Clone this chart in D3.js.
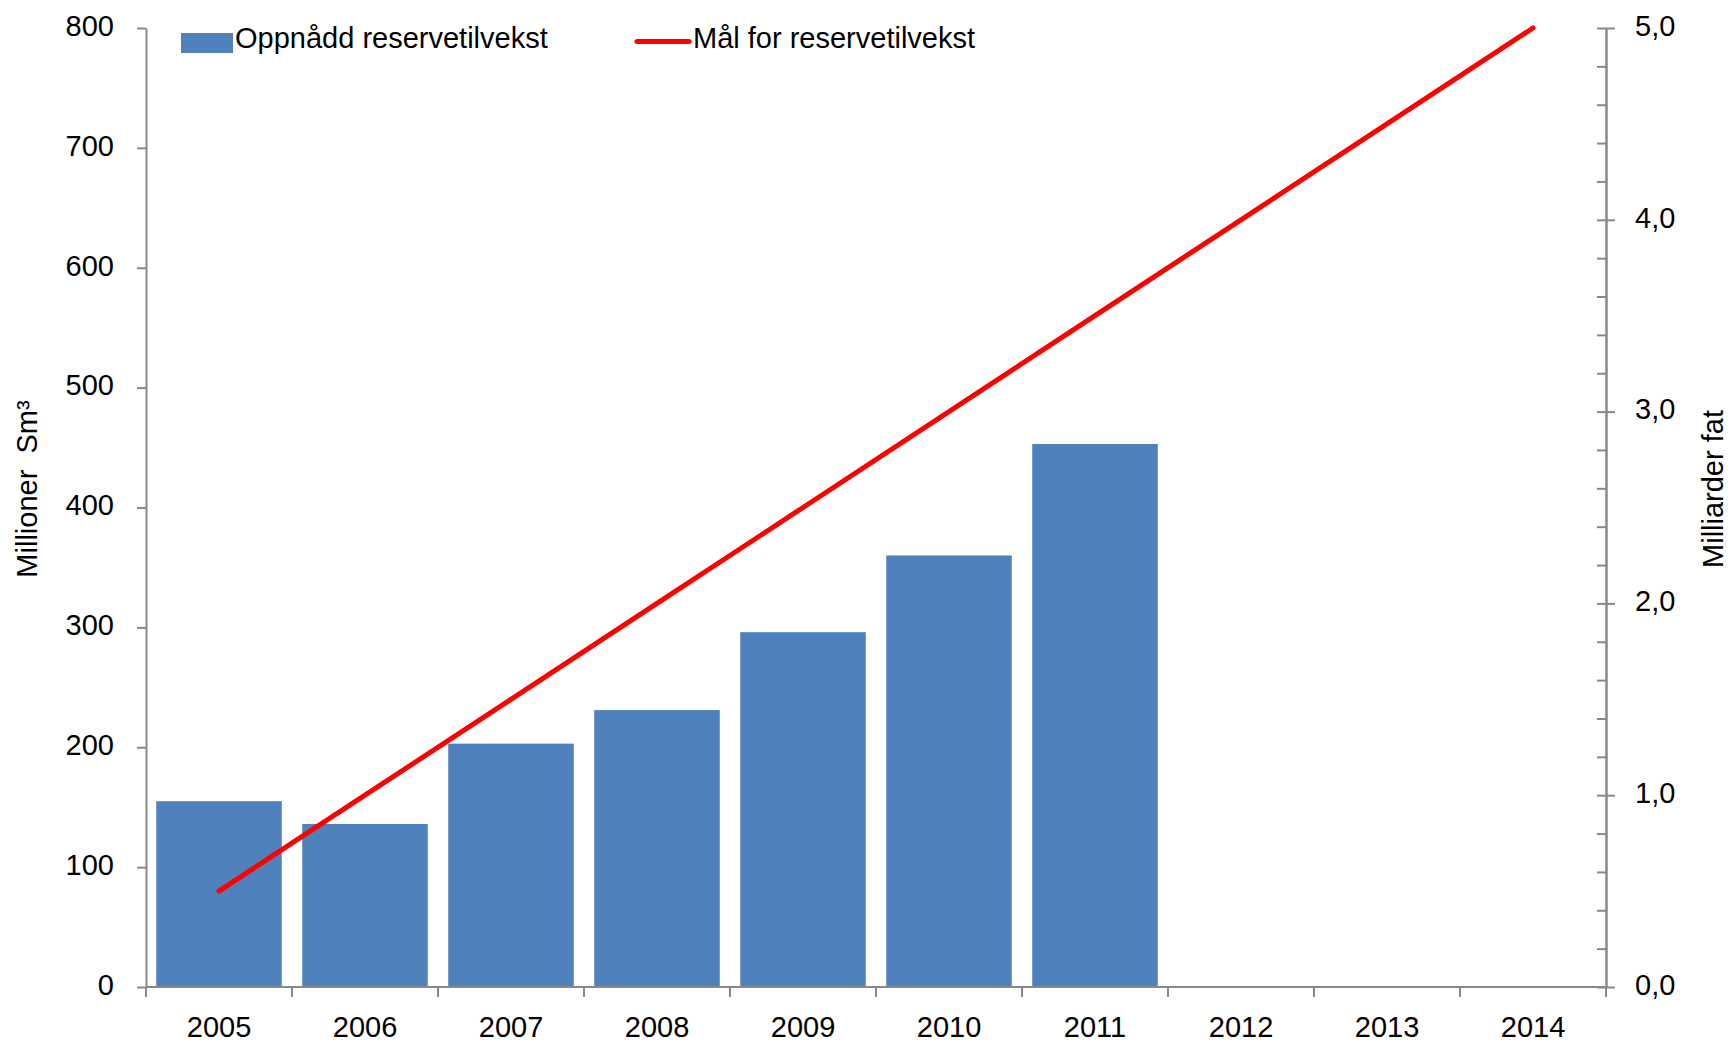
<!DOCTYPE html>
<html>
<head>
<meta charset="utf-8">
<script src="https://cdn.jsdelivr.net/npm/d3@7"></script>
<style>
  html, body { margin: 0; padding: 0; background: #fff; }
  svg { display: block; }
  text { font-family: 'Liberation Sans', Arial, sans-serif; fill: #000; white-space: pre; }
</style>
</head>
<body>
<script>
const years = ["2005","2006","2007","2008","2009","2010","2011","2012","2013","2014"];
const achieved = [155, 136, 203, 231, 296, 360, 453, null, null, null];
const target = [0.5, 1.0, 1.5, 2.0, 2.5, 3.0, 3.5, 4.0, 4.5, 5.0];
const leftTicks = [0, 100, 200, 300, 400, 500, 600, 700, 800];
const rightTicks = [0, 1, 2, 3, 4, 5];
const rightMinor = d3.range(0, 5.0001, 0.2);
const seriesNames = ["Oppnådd reservetilvekst", "Mål for reservetilvekst"];
const leftTitle = "Millioner  Sm³";
const rightTitle = "Milliarder fat";

const W = 1731, H = 1043;
const m = { left: 146, right: 1606, top: 28, bottom: 987 };
const axisColor = "#898989";
const fontSize = 29;

const svg = d3.select("body").append("svg").attr("width", W).attr("height", H);

const x = d3.scaleBand().domain(years).range([m.left, m.right]).paddingInner(0.14).paddingOuter(0.07);
const y = d3.scaleLinear().domain([0, 800]).range([m.bottom, m.top]);
const y2 = d3.scaleLinear().domain([0, 5]).range([m.bottom, m.top]);

// bars
svg.append("g").selectAll("rect")
  .data(years.map((yr, i) => ({ yr, v: achieved[i] })).filter(d => d.v != null))
  .join("rect")
  .attr("x", d => x(d.yr))
  .attr("width", x.bandwidth())
  .attr("y", d => y(d.v))
  .attr("height", d => y(0) - y(d.v))
  .attr("fill", "#4F81BD");

// line
const line = d3.line().x((d, i) => x(years[i]) + x.bandwidth() / 2).y(d => y2(d));
svg.append("path").datum(target)
  .attr("d", line)
  .attr("fill", "none")
  .attr("stroke", "#FF0000")
  .attr("stroke-width", 5)
  .attr("stroke-linecap", "round");

function styleAxis(g) {
  g.selectAll("path.domain").attr("stroke", axisColor).attr("stroke-width", 2);
  g.selectAll(".tick line").attr("stroke", axisColor).attr("stroke-width", 2);
  g.selectAll("text").attr("font-size", fontSize).attr("font-family", null);
}

// left axis
const gl = svg.append("g").attr("transform", `translate(${m.left},0)`)
  .call(d3.axisLeft(y).tickValues(leftTicks).tickSize(9).tickSizeOuter(0).tickPadding(23).tickFormat(d3.format("d")));
styleAxis(gl);
gl.selectAll(".tick text").attr("dy", "0.25em");

// right axis minor ticks (inside)
const grm = svg.append("g").attr("transform", `translate(${m.right},0)`)
  .call(d3.axisLeft(y2).tickValues(rightMinor).tickSize(9).tickSizeOuter(0).tickFormat(""));
styleAxis(grm);
// right axis majors with labels
const gr = svg.append("g").attr("transform", `translate(${m.right},0)`)
  .call(d3.axisRight(y2).tickValues(rightTicks).tickSize(9).tickSizeOuter(0).tickPadding(20)
    .tickFormat(d => d3.format(".1f")(d).replace(".", ",")));
styleAxis(gr);
gr.selectAll(".tick text").attr("dy", "0.25em");

// bottom axis
const gb = svg.append("g").attr("transform", `translate(0,${m.bottom})`)
  .call(d3.axisBottom(x).tickSize(0).tickSizeOuter(0).tickPadding(29));
styleAxis(gb);
gb.select("path.domain").attr("d", `M${m.left},0H${m.right}`);
const bounds = d3.range(years.length + 1).map(i => x.range()[0] + i * x.step());
gb.selectAll("line.bound").data(bounds).join("line").attr("class", "bound")
  .attr("x1", d => d).attr("x2", d => d).attr("y1", 0).attr("y2", 10)
  .attr("stroke", axisColor).attr("stroke-width", 2);
gb.selectAll(".tick text").attr("dy", "0.71em");

// axis titles
svg.append("text")
  .attr("transform", `translate(37,489) rotate(-90)`)
  .attr("text-anchor", "middle").attr("font-size", fontSize)
  .text(leftTitle);
svg.append("text")
  .attr("transform", `translate(1723,489) rotate(-90)`)
  .attr("text-anchor", "middle").attr("font-size", fontSize)
  .text(rightTitle);

// legend
const lg = svg.append("g");
lg.append("rect").attr("x", 181).attr("y", 33).attr("width", 52).attr("height", 20).attr("fill", "#4F81BD");
lg.append("text").attr("x", 235).attr("y", 48).attr("font-size", fontSize).text(seriesNames[0]);
lg.append("line").attr("x1", 637).attr("x2", 689).attr("y1", 41.5).attr("y2", 41.5)
  .attr("stroke", "#FF0000").attr("stroke-width", 5).attr("stroke-linecap", "round");
lg.append("text").attr("x", 693).attr("y", 48).attr("font-size", fontSize).text(seriesNames[1]);
</script>
</body>
</html>
